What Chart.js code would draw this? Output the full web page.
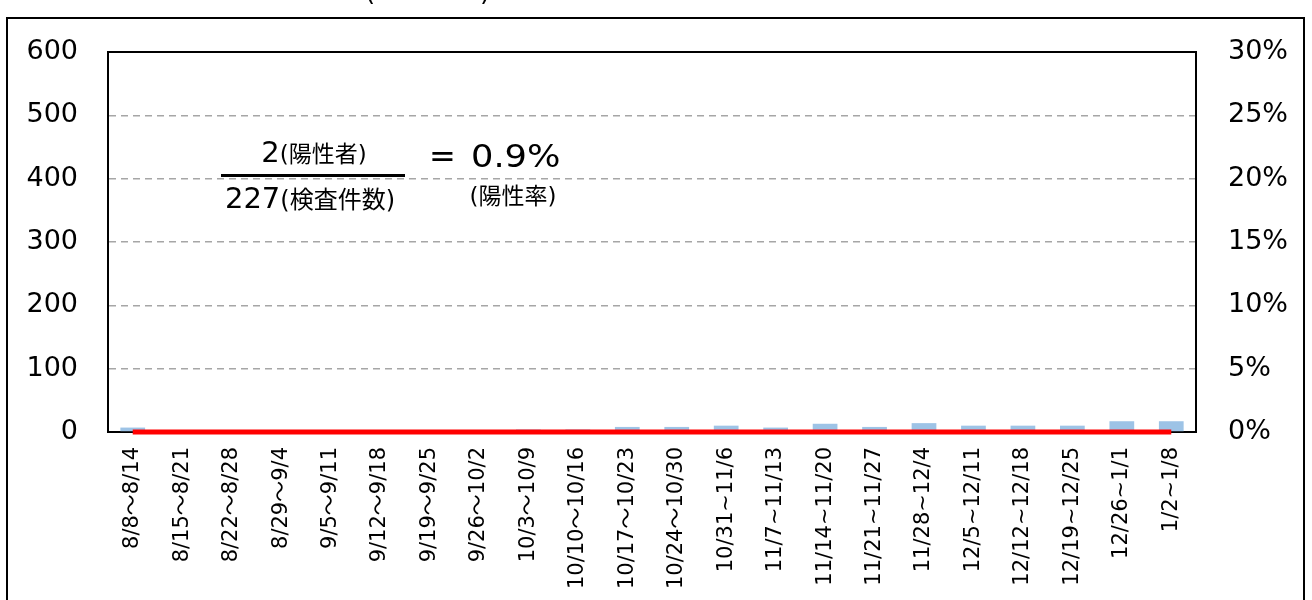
<!DOCTYPE html>
<html>
<head>
<meta charset="utf-8">
<script src="https://cdn.jsdelivr.net/npm/chart.js@4.4.1/dist/chart.umd.min.js"></script>
<style>
html, body { margin: 0; padding: 0; background: #fff; }
</style>
</head>
<body>
<canvas id="chart" width="1312" height="600"></canvas>
<script>
// weekly ranges (x axis)
const weeks = [
    '8/8～8/14', '8/15～8/21', '8/22～8/28', '8/29～9/4', '9/5～9/11', '9/12～9/18',
    '9/19～9/25', '9/26～10/2', '10/3～10/9', '10/10～10/16', '10/17～10/23', '10/24～10/30',
    '10/31~11/6', '11/7~11/13', '11/14~11/20', '11/21~11/27', '11/28~12/4', '12/5~12/11',
    '12/12~12/18', '12/19~12/25', '12/26~1/1', '1/2~1/8'
]
// number of tests per week (left axis)
const tests = [7, 3, 2, 2, 3, 2, 3, 3, 4, 4, 8, 8, 10, 7, 13, 8, 14, 10, 10, 10, 17, 17]
// positive rate per week (right axis)
const positiveRate = [0, 0, 0, 0, 0, 0, 0, 0, 0, 0, 0, 0, 0, 0, 0, 0, 0, 0, 0, 0, 0, 0]

const positives = '2'
const totalTests = '227'
const rateValue = '0.9%'

const FONT = "'DejaVu Sans', 'Noto Sans CJK JP', sans-serif"
Chart.defaults.font.family = FONT
Chart.defaults.color = '#000'

function drawParts(ctx, parts, cx, y) {
    let total = 0
    parts.forEach(p => {
        ctx.font = p.size + 'px ' + FONT
        p.w = ctx.measureText(p.text).width
        total += p.w
    })
    let x = cx - total / 2
    parts.forEach(p => {
        ctx.font = p.size + 'px ' + FONT
        ctx.fillText(p.text, x, y)
        x += p.w
    })
}

const decorations = {
    id: 'decorations',
    afterDraw(chart) {
        const { ctx, chartArea } = chart
        ctx.save()
        ctx.strokeStyle = '#000'
        ctx.lineWidth = 2
        // outer frame
        ctx.strokeRect(7, 18, 1297, 600)
        // top edge of plot area
        ctx.beginPath()
        ctx.moveTo(chartArea.left - 1, chartArea.top)
        ctx.lineTo(chartArea.right + 1, chartArea.top)
        ctx.stroke()

        // cut off title
        ctx.fillStyle = '#000'
        ctx.textAlign = 'left'
        ctx.textBaseline = 'alphabetic'
        ctx.font = '26px ' + FONT
        ctx.fillText('(', 365, 0)
        ctx.fillText(')', 480, 0)

        // formula
        drawParts(ctx, [{ text: positives, size: 29 }, { text: '(陽性者)', size: 23 }], 314, 162)
        ctx.lineWidth = 3
        ctx.beginPath()
        ctx.moveTo(221, 175.5)
        ctx.lineTo(405, 175.5)
        ctx.stroke()
        drawParts(ctx, [{ text: totalTests, size: 29 }, { text: '(検査件数)', size: 24 }], 310, 208)

        ctx.font = '32px ' + FONT
        ctx.fillText('=', 429, 167)
        ctx.save()
        ctx.translate(471, 167)
        ctx.scale(1.1, 1)
        ctx.fillText(rateValue, 0, 0)
        ctx.restore()
        drawParts(ctx, [{ text: '(陽性率)', size: 23 }], 513, 204)
        ctx.restore()
    }
}

new Chart(document.querySelector('#chart').getContext('2d'), {
    data: {
        labels: weeks,
        datasets: [
            {
                type: 'line',
                label: '陽性率',
                data: positiveRate,
                yAxisID: 'y1',
                borderColor: '#ff0000',
                backgroundColor: '#ff0000',
                borderWidth: 5,
                pointRadius: 0,
                clip: false,
                order: 0
            },
            {
                type: 'bar',
                label: '検査件数',
                data: tests,
                yAxisID: 'y',
                backgroundColor: '#9dc3e6',
                barPercentage: 0.5,
                categoryPercentage: 1,
                order: 1
            }
        ]
    },
    options: {
        responsive: false,
        animation: false,
        layout: { padding: { top: 52, left: 0, right: 0, bottom: 0 } },
        plugins: {
            legend: { display: false },
            tooltip: { enabled: false }
        },
        scales: {
            x: {
                grid: { display: false, drawTicks: false },
                border: { display: true, color: '#000', width: 2 },
                ticks: {
                    autoSkip: false,
                    minRotation: 90,
                    maxRotation: 90,
                    padding: 15,
                    font: { size: 21 }
                },
                afterFit(scale) { scale.height = 168 }
            },
            y: {
                position: 'left',
                min: 0,
                max: 600,
                ticks: { stepSize: 100, padding: 30, font: { size: 27 } },
                grid: {
                    drawTicks: false,
                    lineWidth: 1.5,
                    color: ctx => (ctx.tick.value === 0 || ctx.tick.value === 600) ? 'rgba(0,0,0,0)' : '#a6a6a6'
                },
                border: { display: true, color: '#000', width: 2, dash: [7, 5] },
                afterFit(scale) { scale.width = 108 }
            },
            y1: {
                position: 'right',
                min: 0,
                max: 0.3,
                ticks: {
                    stepSize: 0.05,
                    padding: 32,
                    font: { size: 27 },
                    callback: v => Math.round(v * 100) + '%'
                },
                grid: { display: false, drawTicks: false },
                border: { display: true, color: '#000', width: 2 },
                afterFit(scale) { scale.width = 116 }
            }
        }
    },
    plugins: [decorations]
})
</script>
</body>
</html>
